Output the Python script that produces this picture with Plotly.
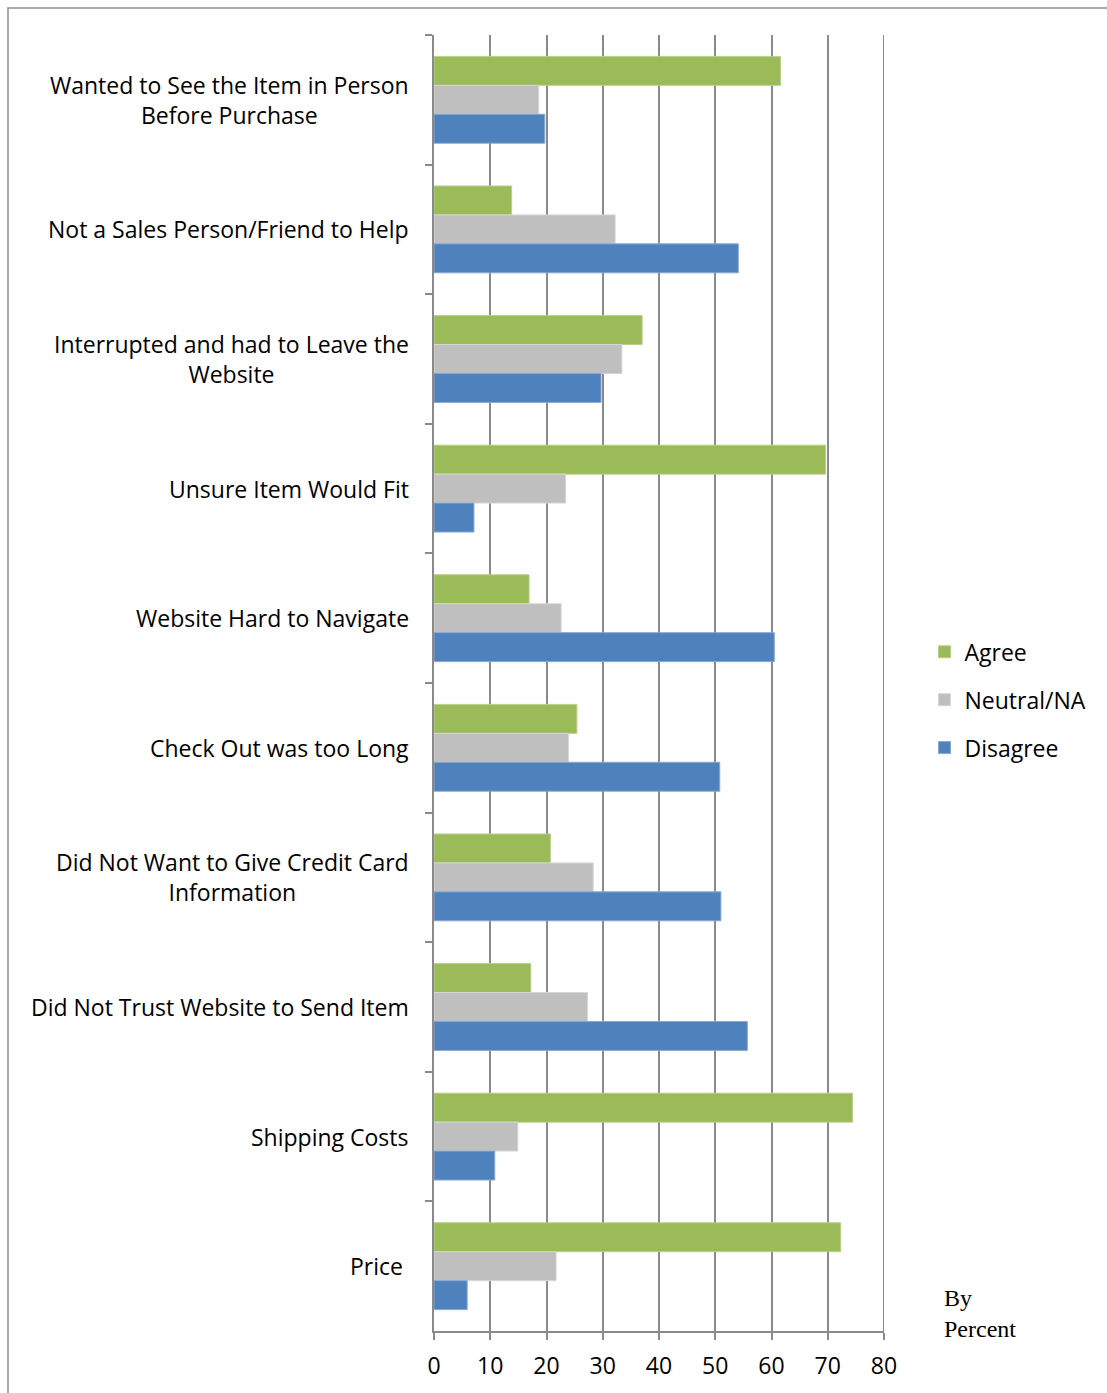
import plotly.graph_objects as go

# Survey reasons for abandoning an online purchase (percent of respondents)
categories = [
    "Wanted to See the Item in Person<br>Before Purchase",
    "Not a Sales Person/Friend to Help",
    "Interrupted and had to Leave the<br>Website",
    "Unsure Item Would Fit",
    "Website Hard to Navigate",
    "Check Out was too Long",
    "Did Not Want to Give Credit Card<br>Information",
    "Did Not Trust Website to Send Item",
    "Shipping Costs",
    "Price\u00a0",
]
agree = [61.6, 13.8, 37.0, 69.6, 16.9, 25.4, 20.7, 17.2, 74.4, 72.3]
neutral = [18.6, 32.2, 33.4, 23.4, 22.6, 23.9, 28.3, 27.3, 14.9, 21.7]
disagree = [19.7, 54.1, 29.7, 7.1, 60.5, 50.8, 51.0, 55.7, 10.8, 5.9]
x_ticks = [0, 10, 20, 30, 40, 50, 60, 70, 80]

series = [
    ("Agree", agree, "#9BBB59", "#B9D08A"),
    ("Neutral/NA", neutral, "#BFBFBF", "#D6D6D6"),
    ("Disagree", disagree, "#4F81BD", "#86A8D3"),
]

FONT = "'Open Sans', 'Noto Sans', sans-serif"
GRID = "#8A8A8A"

fig = go.Figure()
for name, vals, color, edge in series:
    fig.add_trace(go.Bar(
        name=name,
        y=categories,
        x=vals,
        orientation="h",
        marker=dict(color=color, line=dict(color=edge, width=1)),
        legendgroup=name,
    ))

# Category labels: right-aligned block, lines centred within it
for cat in categories:
    fig.add_annotation(
        x=-0.052, xref="paper", xanchor="right",
        y=cat, yref="y", yanchor="middle",
        text=cat, showarrow=False, align="center",
        font=dict(family=FONT, size=23, color="#000000"),
    )

fig.add_annotation(
    x=1.129, xref="paper", xanchor="left",
    y=-0.01, yref="paper", yanchor="bottom",
    text="By<br>Percent", showarrow=False, align="left",
    font=dict(family="'Liberation Serif', 'Times New Roman', serif", size=24, color="#000000"),
)

# Gridline at the far end of the value axis
fig.add_shape(
    type="line", xref="x", yref="paper",
    x0=x_ticks[-1], x1=x_ticks[-1], y0=0, y1=1,
    line=dict(color=GRID, width=2), layer="below",
)

# Outer chart frame (left and top edges)
fig.add_shape(
    type="path", xref="paper", yref="paper",
    path="M -0.9467,-0.06 L -0.9467,1.0208 L 1.6,1.0208",
    line=dict(color="#8C8C8C", width=1.5),
)

fig.update_layout(
    width=1107, height=1393,
    margin=dict(l=434, r=223, t=35, b=60),
    paper_bgcolor="white", plot_bgcolor="white",
    barmode="group", bargap=0.33, bargroupgap=0,
    font=dict(family=FONT, size=22, color="#000000"),
    showlegend=True,
    legend=dict(
        x=1.09, xanchor="left", y=0.487, yanchor="middle",
        traceorder="grouped", tracegroupgap=15,
        font=dict(family=FONT, size=23, color="#000000"),
        bgcolor="rgba(0,0,0,0)",
    ),
)

fig.update_xaxes(
    range=[0, 80], tickvals=x_ticks, ticktext=[str(v) for v in x_ticks],
    showgrid=True, gridcolor=GRID, gridwidth=2,
    showline=True, linecolor=GRID, linewidth=2,
    ticks="outside", ticklen=7, tickcolor=GRID, tickwidth=2,
    ticklabelstandoff=6,
    zeroline=False, fixedrange=True,
    tickfont=dict(family=FONT, size=23, color="#000000"),
)
fig.update_yaxes(
    type="category", categoryorder="array", categoryarray=categories,
    autorange="reversed",
    showticklabels=False, showgrid=False,
    showline=True, linecolor=GRID, linewidth=2,
    ticks="outside", tickson="boundaries", ticklen=7,
    tickcolor=GRID, tickwidth=2,
    zeroline=False, fixedrange=True,
)

fig.write_html("out.html")
